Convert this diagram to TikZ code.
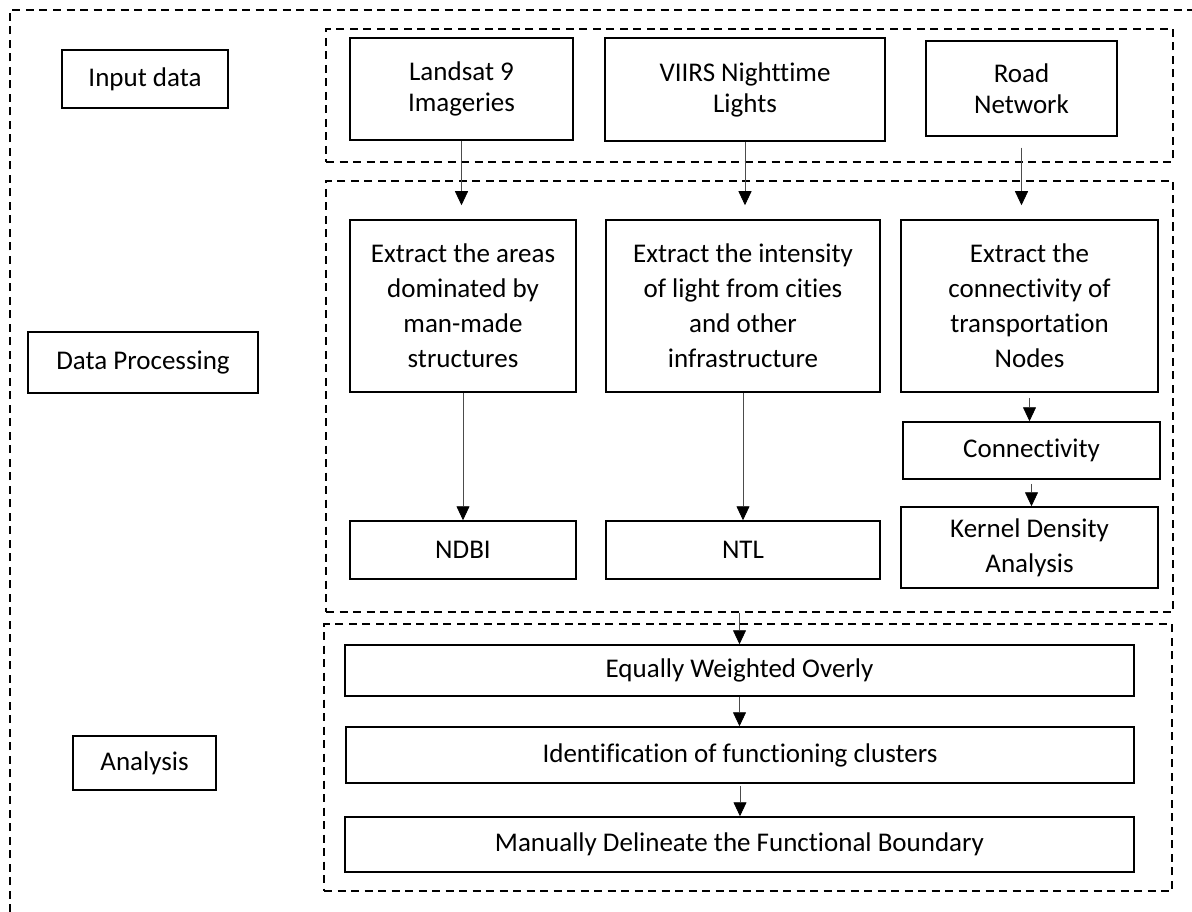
\documentclass[tikz,border=0pt]{standalone}
\usepackage{fontspec}
\setmainfont{Carlito}[Ligatures=NoCommon]
\usetikzlibrary{arrows.meta,positioning}

\begin{document}
\begin{tikzpicture}[x=1pt, y=-1pt,
        >={Triangle[width=13pt,length=14pt,color=black]},
        box/.style={
            % The shape:
            rectangle,
            % The border
            draw=black, line width=1.5pt,
            % The text
            align=center, inner sep=0pt,
            font=\fontsize{27}{35}\selectfont},
        topbox/.style={box, font=\fontsize{27}{31}\selectfont},
        group/.style={
            rectangle, inner sep=0pt,
            draw=black, line width=1.3pt, dash pattern=on 8pt off 5.5pt},
        flow/.style={->, line width=0.8pt, draw=black!70}]

        \useasboundingbox (0,0) rectangle (1192,912);
        \draw [group] (10,912) -- (10,10) -- (1192,10);

        % stages on the left
        \node [box, minimum width=166, minimum height=58] (input) at (145,79) {Input data};
        \node [box, minimum width=230, minimum height=61] (dproc) at (143,362.5) {Data Processing};
        \node [box, minimum width=143, minimum height=54] (analysis) at (144.5,763) {Analysis};

        % dashed groups
        \node [group, minimum width=847, minimum height=133] (ingroup) at (749.5,95.5) {};
        \node [group, minimum width=847, minimum height=431] (procgroup) at (749.5,396.5) {};
        \node [group, minimum width=848, minimum height=267] (angroup) at (748,757.5) {};

        % input data
        \node [topbox, minimum width=223, minimum height=102] (landsat) at (461.5,89) {Landsat 9\\Imageries};
        \node [topbox, minimum width=280, minimum height=103] (viirs) at (745,89.5) {VIIRS Nighttime\\Lights};
        \node [topbox, minimum width=191, minimum height=95] (road) at (1021.5,88.5) {Road\\Network};

        % data processing
        \node [box, minimum width=226, minimum height=172] (ext1) at (463,306) {Extract the areas\\dominated by\\man-made\\structures};
        \node [box, minimum width=274, minimum height=172] (ext2) at (743,306) {Extract the intensity\\of light from cities\\and other\\infrastructure};
        \node [box, minimum width=257, minimum height=172] (ext3) at (1029.5,306) {Extract the\\connectivity of\\transportation\\Nodes};
        \node [box, minimum width=226, minimum height=58] (ndbi) at (463,550) {NDBI};
        \node [box, minimum width=274, minimum height=58] (ntl) at (743,550) {NTL};
        \node [box, minimum width=257, minimum height=57] (conn) at (1031.5,450.5) {Connectivity};
        \node [box, minimum width=257, minimum height=81] (kernel) at (1029.5,547.5) {Kernel Density\\Analysis};

        % analysis
        \node [box, minimum width=789, minimum height=51] (eq) at (739.5,670.5) {Equally Weighted Overly};
        \node [box, minimum width=788, minimum height=56] (ident) at (740,755) {Identification of functioning clusters};
        \node [box, minimum width=789, minimum height=55] (manual) at (739.5,844.5) {Manually Delineate the Functional Boundary};

        \draw [flow, shorten >=14pt] (landsat) -- (landsat |- ext1.north);
        \draw [flow, shorten >=14pt] (viirs) -- (viirs |- ext2.north);
        \draw [flow, shorten <=11pt, shorten >=14pt] (road) -- (road |- ext3.north);
        \draw [flow] (ext1) -- (ndbi);
        \draw [flow] (ext2) -- (ntl);
        \draw [flow, shorten <=5pt] (ext3) -- (ext3 |- conn.north);
        \draw [flow, shorten <=4pt] (conn) -- (conn |- kernel.north);
        \draw [flow] (eq |- procgroup.south) -- (eq);
        \draw [flow] (eq) -- (eq |- ident.north);
        \draw [flow, shorten <=2pt] (ident) -- (ident |- manual.north);

\end{tikzpicture}
\end{document}
